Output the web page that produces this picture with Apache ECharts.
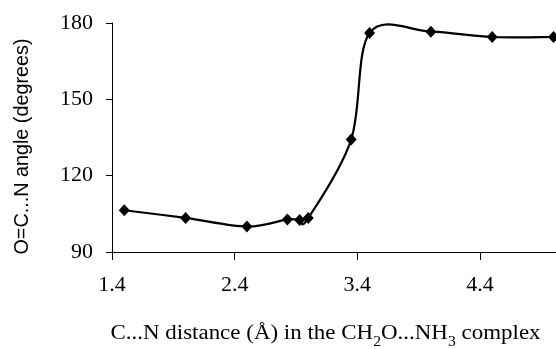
<!DOCTYPE html>
<html><head><meta charset="utf-8">
<script src="https://cdn.jsdelivr.net/npm/echarts@6/dist/echarts.min.js"></script>
<style>html,body{margin:0;padding:0;background:#fff}#c{width:556px;height:349px}</style>
</head><body><div id="c"></div>
<script>
const distance = [1.5, 2.0, 2.5, 2.83, 2.93, 3.0, 3.35, 3.5, 4.0, 4.5, 5.0];
const angle = [106.4, 103.4, 100.0, 102.8, 102.6, 103.4, 134.2, 176.1, 176.6, 174.5, 174.5];
const xTicks = [1.4, 2.4, 3.4, 4.4];
const yTicks = [90, 120, 150, 180];
const xTitle = '{n|C...N distance (Å) in the CH}{s|2}{n|O...NH}{s|3}{n| complex}';
const yTitle = 'O=C...N angle (degrees)';

const points = distance.map((d, i) => [d, angle[i]]);
const chart = echarts.init(document.getElementById('c'), null, {renderer: 'canvas'});
const serif = 'Liberation Serif';

// Excel-style smoothed line (Catmull-Rom, tension 1/6) drawn in pixel space via the axes
function renderSmooth(params, api) {
  if (params.dataIndex !== 0) return null;
  const p = points.map(pt => api.coord(pt));
  const n = p.length;
  const children = [];
  for (let i = 0; i < n - 1; i++) {
    const p0 = p[Math.max(0, i - 1)], p1 = p[i], p2 = p[i + 1], p3 = p[Math.min(n - 1, i + 2)];
    children.push({
      type: 'bezierCurve',
      shape: {
        x1: p1[0], y1: p1[1],
        cpx1: p1[0] + (p2[0] - p0[0]) / 6, cpy1: p1[1] + (p2[1] - p0[1]) / 6,
        cpx2: p2[0] - (p3[0] - p1[0]) / 6, cpy2: p2[1] - (p3[1] - p1[1]) / 6,
        x2: p2[0], y2: p2[1]
      },
      style: {stroke: '#000', lineWidth: 2.2, fill: null}
    });
  }
  return {type: 'group', children};
}

chart.setOption({
  animation: false,
  grid: {left: 112, top: 23, right: 0, bottom: 97, outerBoundsMode: 'none', containLabel: false},
  xAxis: {
    type: 'value', min: 1.4, max: 5.02,
    axisLine: {show: true, lineStyle: {color: '#000', width: 1}},
    axisTick: {show: true, length: 8, customValues: xTicks, lineStyle: {color: '#000'}},
    axisLabel: {customValues: xTicks, margin: 22, color: '#000', fontFamily: serif, fontSize: 22,
      formatter: v => v.toFixed(1)},
    splitLine: {show: false}
  },
  yAxis: {
    type: 'value', min: 90, max: 180, interval: 30,
    axisLine: {show: true, lineStyle: {color: '#000', width: 1}},
    axisTick: {show: true, length: 6, lineStyle: {color: '#000'}},
    axisLabel: {margin: 19, color: '#000', fontFamily: serif, fontSize: 22},
    splitLine: {show: false}
  },
  graphic: [{
    type: 'text', x: 325.5, y: 332, scaleX: 1.12,
    style: {
      text: xTitle, align: 'center', verticalAlign: 'middle',
      rich: {
        n: {fontFamily: serif, fontSize: 20.5, fill: '#000', verticalAlign: 'bottom', lineHeight: 24},
        s: {fontFamily: serif, fontSize: 14, fill: '#000', verticalAlign: 'bottom', lineHeight: 24, padding: [0,0,-5,0]}
      }
    }
  }, {
    type: 'text', x: 23, y: 146.5, rotation: Math.PI / 2,
    style: {
      text: yTitle, align: 'center', verticalAlign: 'middle',
      fontFamily: 'Liberation Sans', fontSize: 19.8, fill: '#000'
    }
  }],
  series: [{
    type: 'custom',
    renderItem: renderSmooth,
    data: points,
    clip: false,
    silent: true,
    z: 1
  }, {
    type: 'scatter',
    data: points,
    symbol: 'diamond', symbolSize: [11, 12],
    itemStyle: {color: '#000', opacity: 1},
    clip: false,
    z: 2
  }]
});
</script></body></html>
